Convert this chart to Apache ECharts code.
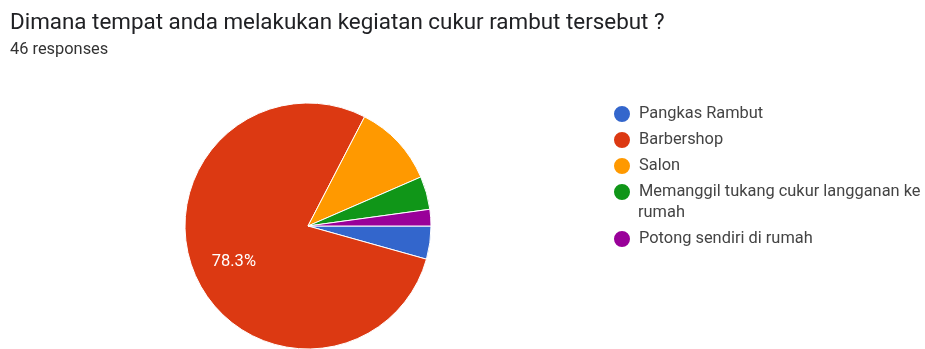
<!DOCTYPE html>
<html><head><meta charset="utf-8">
<script src="https://cdn.jsdelivr.net/npm/echarts@6/dist/echarts.min.js"></script>
<style>html,body{margin:0;padding:0;background:#fff}#c{width:925px;height:349px}</style>
</head><body><div id="c"></div>
<script>
const titleText = 'Dimana tempat anda melakukan kegiatan cukur rambut tersebut ?';
const subText = '46 responses';
const categories = ['Pangkas Rambut', 'Barbershop', 'Salon', 'Memanggil tukang cukur langganan ke', 'Potong sendiri di rumah'];
const values = [2, 36, 5, 2, 1];
const colors = ['#3366cc', '#dc3912', '#ff9900', '#109618', '#990099'];
const labelShown = ['Barbershop'];

const chart = echarts.init(document.getElementById('c'), null, {renderer: 'canvas'});
const font = 'Roboto, "Liberation Sans", sans-serif';
const legendText = {fontFamily: font, fontSize: 16.4, color: '#444444', lineHeight: 22, padding: [0, 0, 0, 3]};
const legendBase = {orient: 'vertical', left: 612, padding: 0, itemWidth: 18, itemHeight: 18, itemGap: 4,
  icon: 'circle', textStyle: legendText, selectedMode: false};
chart.setOption({
  animation: false,
  color: colors,
  title: [
    {text: titleText, left: 10, top: 12, padding: 0, textStyle: {fontFamily: font, fontSize: 22.4, fontWeight: 'normal', color: '#202124'}},
    {text: subText, left: 10, top: 42, padding: 0, textStyle: {fontFamily: font, fontSize: 16.4, fontWeight: 'normal', color: '#333333'}}
  ],
  legend: [
    Object.assign({top: 103, data: categories.slice(0, 4)}, legendBase),
    Object.assign({top: 228, data: categories.slice(4)}, legendBase)
  ],
  graphic: [
    {type: 'text', left: 638, top: 205, style: {text: 'rumah', font: '16.4px ' + font, fill: '#444444'}}
  ],
  series: [{
    type: 'pie',
    center: [308, 226],
    radius: 123,
    startAngle: 0,
    clockwise: true,
    itemStyle: {borderColor: '#fff', borderWidth: 1},
    label: {show: false},
    labelLine: {show: false},
    emphasis: {disabled: true},
    data: categories.map((n, i) => ({
      name: n, value: values[i],
      label: labelShown.includes(n) ? {
        show: true, position: 'inside', color: '#fff', fontFamily: font, fontSize: 16.5,
        formatter: p => p.percent.toFixed(1) + '%'
      } : {show: false}
    })),
    labelLayout: p => p.text === '78.3%' ? {dx: -15, dy: 10} : {}
  }]
});
</script></body></html>
